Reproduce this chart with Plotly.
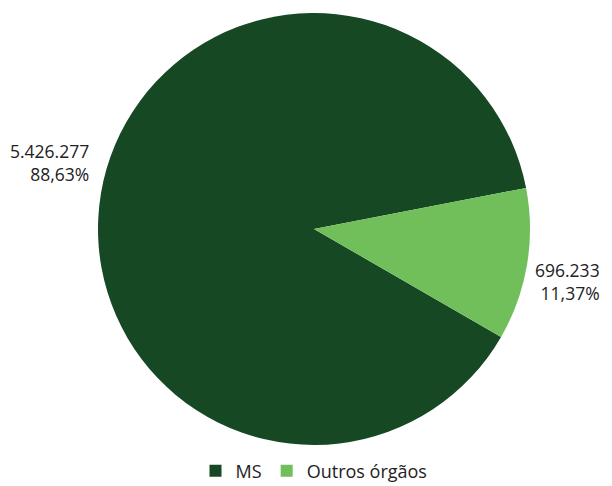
import plotly.graph_objects as go

categories = ["MS", "Outros órgãos"]
values = [5426277, 696233]
value_labels = ["5.426.277", "696.233"]
pct_labels = ["88,63%", "11,37%"]
colors = ["#174824", "#70BF5A"]

W, H = 612, 486
fig = go.Figure(go.Pie(
    labels=categories,
    values=values,
    sort=False,
    direction="counterclockwise",
    rotation=120,
    marker=dict(colors=colors, line=dict(width=0)),
    textinfo="none",
    hoverinfo="label+value+percent",
    domain=dict(x=[90/W, 522/W], y=[(H-437)/H, (H-5)/H]),
))

font = dict(family="Open Sans, Noto Sans, sans-serif", size=17.5, color="#222222")
ann_pos = [(0, 154), (525, 273)]
for (px, py), v, p in zip(ann_pos, value_labels, pct_labels):
    fig.add_annotation(
        x=px/W, y=1-py/H, xref="paper", yref="paper",
        text=f"{v}<br>{p}", showarrow=False, align="right",
        xanchor="left", yanchor="middle", font=font,
    )

fig.update_layout(
    width=W, height=H,
    margin=dict(l=0, r=0, t=0, b=0),
    paper_bgcolor="white",
    plot_bgcolor="white",
    font=font,
    showlegend=True,
    legend=dict(orientation="h", x=0.5, xanchor="center", y=(H-463)/H, yanchor="middle",
                font=dict(size=18, family="Open Sans, Noto Sans, sans-serif", color="#222222"),
                bgcolor="rgba(0,0,0,0)"),
)
fig.write_html("out.html")
